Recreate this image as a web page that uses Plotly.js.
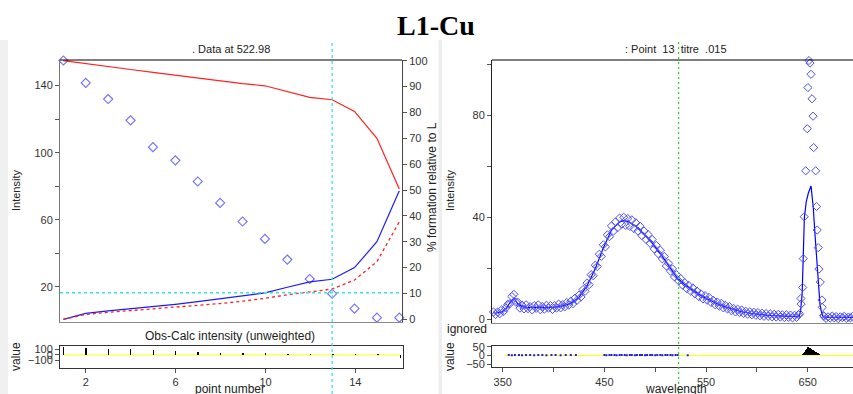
<!DOCTYPE html>
<html>
<head>
<meta charset="utf-8">
<script src="https://cdn.plot.ly/plotly-3.0.1.min.js"></script>
<style>html,body{margin:0;padding:0;background:#fff;}#chart{width:853px;height:394px;}</style>
</head>
<body>
<div id="chart"></div>
<script>
// ---------- Left panel: titration points at 522.98 nm ----------
const pointNumber = [1,2,3,4,5,6,7,8,9,10,11,12,13,14,15,16];
const obsIntensity = [155,141.6,132,119.3,103.3,95.4,82.8,70,58.9,48.5,36.2,24.6,15.8,6.9,1.5,1.5];
const pctFreeL = [100,98.8,97.7,96.6,95.5,94.4,93.3,92.2,91.1,90.3,88.0,85.8,84.9,80.4,70.0,50.4];
const pctComplex1 = [0,2.3,3.3,4.1,4.9,5.8,6.8,7.9,9.0,10.2,12.4,14.5,15.5,20.0,30.0,49.7];
const pctComplex2 = [0,1.9,2.7,3.4,4.0,4.7,5.3,6.1,7.0,8.1,9.5,10.7,11.7,15.2,22.3,37.7];
const residPoint = [150,127,110,104,91,73,55,42,36,31,24,13,9,9,9,-60];
const selectedPoint = 13;
const selectedIntensity = 16.4;

// ---------- Right panel: spectrum of point 13 ----------
const obsWl = [341,343,345,347,349,351,353,355,357,359,361,363,365,367,369,371,373,375,377,379,381,383,385,387,389,391,393,395,397,399,401,403,405,407,409,411,413,415,417,419,421,423,425,427,429,431,433,435,437,439,441,443,445,447,449,451,453,455,457,459,461,463,465,467,469,471,473,475,477,479,481,483,485,487,489,491,493,495,497,499,501,503,505,507,509,511,513,515,517,519,521,523,525,527,529,531,533,535,537,539,541,543,545,547,549,551,553,555,557,559,561,563,565,567,569,571,573,575,577,579,581,583,585,587,589,591,593,595,597,599,601,603,605,607,609,611,613,615,617,619,621,623,625,627,629,631,633,635,637,639,641,
  642.0,643.3,643.5,645.0,645.6,646.5,648.0,649.5,650.2,651.2,652.2,653.2,654.2,655.2,655.8,657.8,658.7,659.3,660.3,661.0,662.3,664.0,664.2,665.5,
  666,668,670,672,674,676,678,680,682,684,686,688,690,692,694];
const obsVal = [2.9,1.9,2.9,2.2,3.8,3.1,4.5,5.9,6.1,9.0,
  9.8,6.7,6.7,4.4,5.6,4.1,5.7,4.2,5.0,3.7,
  5.4,4.3,5.7,3.8,5.1,4.0,5.5,4.4,5.4,3.9,
  5.4,4.4,6.0,4.5,5.8,4.9,6.6,5.6,7.1,6.1,
  8.3,7.4,9.5,8.8,11.7,11.0,14.2,13.6,17.5,17.1,
  21.2,20.7,25.5,24.7,29.2,28.4,33.1,32.4,36.6,34.6,
  38.2,35.9,39.7,37.3,40.0,36.8,39.5,36.4,39.0,35.6,
  37.8,34.6,36.5,32.8,34.6,31.3,33.2,29.8,31.3,27.6,
  29.0,25.7,27.1,23.7,24.6,20.9,22.0,18.9,19.8,16.6,
  17.5,15.1,16.0,13.4,14.4,12.0,13.3,11.0,12.3,10.0,
  11.1,8.9,10.0,8.0,9.3,7.5,8.6,6.6,7.5,5.7,
  6.8,5.2,6.3,4.5,5.5,4.1,5.0,3.4,4.3,2.9,
  4.0,2.7,3.7,2.3,3.2,2.0,3.0,1.8,2.8,1.6,
  2.7,1.4,2.4,1.2,2.3,1.2,2.2,1.0,2.0,0.9,
  2.0,0.9,1.8,0.7,1.8,0.8,1.7,0.6,1.6,0.8,
  1.8,
  2.2,8.2,6.0,12.5,23.8,40.2,58.2,74.7,90.8,101.4,100.4,96,86.4,79.6,67.3,58.2,44.2,35,28.1,19.7,14.6,7.6,4.7,1.5,
  1.2,0.4,1.0,0.5,1.3,0.6,1.1,0.3,1.0,0.7,1.2,0.4,0.9,0.6,1.1];
const calcWl = [341,345,349,353,357,361,365,369,373,381,393,401,409,417,425,433,441,449,457,465,469,473,481,489,497,505,513,521,529,537,545,553,561,569,577,585,593,601,609,617,625,633,639,641.7,643,644.5,645.7,646.7,648.5,650.6,653.2,654.3,655.4,657,658.7,660.5,662,663.7,665.3,670,680,695];
const calcVal = [2.5,2.6,3.0,4.0,6.5,8.3,6.0,5.0,4.7,4.6,4.6,4.8,5.3,6.3,8.6,13.2,19.8,28.0,35.0,38.2,38.7,38.4,36.5,33.4,30.0,25.8,21.0,16.6,13.6,11.3,9.3,7.7,6.1,4.9,3.8,3.0,2.4,2.0,1.7,1.5,1.3,1.1,1.1,1.2,3.5,10,23.8,40,46,49.5,52.3,49,44,34,24,13,6,2.5,1,0.8,0.8,0.8];
const residWl = [644,645,646,647,648,649,650,651,652,653,654,655,656,657,658,659,660,661,662,663];
const residVal = [3,8,15,22,30,38,46,50,44,40,35,33,30,26,22,20,15,12,8,4];
const residDotWl = [356,359,362,366,369,373,377,381,385,389,393,398,402,407,412,417,422,450,452,455,457,460,462,465,467,470,472,475,477,480,482,485,487,490,492,495,497,500,502,505,507,510,512,515,517,520,522,532];
const residDotVal = [2,1,3,2,1,2,3,1,2,2,1,3,2,1,2,2,3,2,1,2,3,2,1,2,2,3,1,2,2,1,3,2,2,1,2,3,2,1,2,2,1,3,2,2,1,2,2,1];
const dataWavelength = 522.98;

// ---------- tick labels ----------
const leftYTicks = [20,40,60,80,100,120,140];
const leftYLabels = ['20','','60','','100','','140'];
const pctTicks = [0,10,20,30,40,50,60,70,80,90,100];
const ptTicks = [2,6,10,14];
const resLTicks = [-100,0,100];
const specYTicks = [0,20,40,60,80,100];
const specYLabels = ['0','','40','','80',''];
const wlTicks = [350,400,450,500,550,600,650];
const wlLabels = ['350','','450','','550','','650'];
const resRTicks = [-50,0,50];

const W = 853, H = 394;
const px = v => v / W;
const py = v => 1 - v / H;
const FONT = 'Liberation Sans, Arial, sans-serif';
const tickFont = {family: FONT, size: 11, color: '#333'};
const diamondColor = '#6e6eff';
const specDiamondColor = '#4c4cff';

const traces = [
  {x: pointNumber, y: pctFreeL, xaxis: 'x', yaxis: 'y2', mode: 'lines', line: {color: '#ff2020', width: 1.2}},
  {x: pointNumber, y: pctComplex1, xaxis: 'x', yaxis: 'y2', mode: 'lines', line: {color: '#1a1aff', width: 1.2}},
  {x: pointNumber, y: pctComplex2, xaxis: 'x', yaxis: 'y2', mode: 'lines', line: {color: '#ff2020', width: 1.3, dash: '3px,3px'}},
  {x: pointNumber, y: obsIntensity, xaxis: 'x', yaxis: 'y', mode: 'markers', cliponaxis: false,
   marker: {symbol: 'diamond-open', size: 7, color: diamondColor, line: {width: 1.1, color: diamondColor}}},
  {x: pointNumber, y: residPoint, xaxis: 'x2', yaxis: 'y3', type: 'bar', width: 0.06, marker: {color: '#000', line: {width: 0}}},
  {x: calcWl, y: calcVal, xaxis: 'x3', yaxis: 'y4', mode: 'lines', line: {color: '#0000ff', width: 1.2}},
  {x: obsWl, y: obsVal, xaxis: 'x3', yaxis: 'y4', mode: 'markers', cliponaxis: false,
   marker: {symbol: 'diamond-open', size: 6.3, color: specDiamondColor, line: {width: 1, color: specDiamondColor}}},
  {x: residWl, y: residVal, xaxis: 'x4', yaxis: 'y5', type: 'bar', width: 1, marker: {color: '#000', line: {width: 0}}},
  {x: residDotWl, y: residDotVal, xaxis: 'x4', yaxis: 'y5', mode: 'markers', marker: {symbol: 'square', size: 2, color: '#1a1aff'}}
];

const axBase = {showgrid: false, zeroline: false, tickfont: tickFont, ticklen: 4, tickcolor: '#555', fixedrange: true};

const layout = {
  width: W, height: H,
  margin: {l: 0, r: 0, t: 0, b: 0},
  paper_bgcolor: '#fff', plot_bgcolor: 'rgba(0,0,0,0)',
  showlegend: false, bargap: 0,
  font: {family: FONT, size: 11, color: '#333'},
  xaxis: Object.assign({}, axBase, {domain: [px(60), px(402)], anchor: 'y', range: [0.85, 16.12],
    showticklabels: false, ticks: '', showline: true, linecolor: '#8a8a8a', linewidth: 1}),
  yaxis: Object.assign({}, axBase, {domain: [py(322), py(60)], anchor: 'x', range: [-1.07, 155.3],
    tickvals: leftYTicks, ticktext: leftYLabels, ticks: 'outside', showline: true, linecolor: '#777', linewidth: 1}),
  yaxis2: Object.assign({}, axBase, {overlaying: 'y', side: 'right', anchor: 'x', range: [-1.04, 100.27],
    tickvals: pctTicks, ticks: 'outside', showline: true, linecolor: '#444', linewidth: 1}),
  xaxis2: Object.assign({}, axBase, {domain: [px(60), px(403)], anchor: 'y3', range: [0.85, 16.12],
    tickvals: ptTicks, ticks: 'outside', showline: true, mirror: true, linecolor: '#333', linewidth: 1}),
  yaxis3: Object.assign({}, axBase, {domain: [py(368), py(346)], anchor: 'x2', range: [-240, 165],
    tickvals: resLTicks, ticks: 'outside', showline: true, mirror: true, linecolor: '#333', linewidth: 1}),
  xaxis3: Object.assign({}, axBase, {domain: [px(492), 1], anchor: 'y4', range: [339.5, 694.5],
    showticklabels: false, ticks: '', showline: true, linecolor: '#8a8a8a', linewidth: 1}),
  yaxis4: Object.assign({}, axBase, {domain: [py(322.7), py(60)], anchor: 'x3', range: [-1.3, 101.6],
    tickvals: specYTicks, ticktext: specYLabels, ticks: 'outside', showline: true, linecolor: '#222', linewidth: 1}),
  xaxis4: Object.assign({}, axBase, {domain: [px(492), 1], anchor: 'y5', range: [339.5, 694.5],
    tickvals: wlTicks, ticktext: wlLabels, ticks: 'outside', showline: true, mirror: true, linecolor: '#333', linewidth: 1}),
  yaxis5: Object.assign({}, axBase, {domain: [py(367.3), py(345.7)], anchor: 'x4', range: [-68, 56],
    tickvals: resRTicks, ticks: 'outside', showline: true, mirror: true, linecolor: '#333', linewidth: 1}),
  shapes: [
    {type: 'rect', xref: 'paper', yref: 'paper', x0: 0, x1: px(8), y0: 0, y1: py(40), fillcolor: '#f0f0f0', line: {width: 0}, layer: 'below'},
    {type: 'rect', xref: 'paper', yref: 'paper', x0: px(438.5), x1: px(442), y0: 0, y1: py(40), fillcolor: '#eeeeee', line: {width: 0}, layer: 'below'},
    {type: 'line', xref: 'paper', yref: 'paper', x0: px(60), x1: px(402), y0: py(60), y1: py(60), line: {color: '#000', width: 1}},
    {type: 'line', xref: 'paper', yref: 'paper', x0: px(492), x1: 1, y0: py(60), y1: py(60), line: {color: '#000', width: 1}},
    {type: 'line', xref: 'x', yref: 'paper', x0: selectedPoint, x1: selectedPoint, y0: 0, y1: py(40), line: {color: '#2ee6e6', width: 1.2, dash: '3px,3px'}},
    {type: 'line', xref: 'x domain', yref: 'y', x0: 0, x1: 1, y0: selectedIntensity, y1: selectedIntensity, line: {color: '#2ee6e6', width: 1.5, dash: '3px,3px'}},
    {type: 'line', xref: 'x3', yref: 'paper', x0: dataWavelength, x1: dataWavelength, y0: 0, y1: py(40), line: {color: '#33cc33', width: 1.2, dash: '2px,3px'}},
    {type: 'line', xref: 'x2', yref: 'y3', x0: 1, x1: 16, y0: 0, y1: 0, line: {color: '#ffff00', width: 1}, layer: 'below'},
    {type: 'line', xref: 'x4', yref: 'y5', x0: 352, x1: 695, y0: 0, y1: 0, line: {color: '#ffff00', width: 1}, layer: 'below'}
  ],
  annotations: [
    {text: '<b>L1-Cu</b>', x: px(436), y: py(25), font: {family: 'Liberation Serif, Times New Roman, serif', size: 28, color: '#000'}},
    {text: '. Data at 522.98', x: px(230.5), y: py(49)},
    {text: ':\u00a0Point\u00a0\u00a013\u00a0\u00a0titre\u00a0\u00a0.015', x: px(676), y: py(49)},
    {text: 'Obs-Calc intensity (unweighted)', x: px(230), y: py(335.5), font: {size: 12}},
    {text: 'point number', x: px(230), y: py(388.5), font: {size: 12}},
    {text: 'wavelength', x: px(676), y: py(388.5), font: {size: 12}},
    {text: 'ignored', x: px(467), y: py(329), font: {size: 12}},
    {text: 'Intensity', x: px(16), y: py(190), textangle: -90},
    {text: '% formation relative to L', x: px(432), y: py(187), textangle: -90, font: {size: 12}},
    {text: 'Intensity', x: px(450), y: py(190), textangle: -90},
    {text: 'value', x: px(16), y: py(356), textangle: -90, font: {size: 12}},
    {text: 'value', x: px(450), y: py(356), textangle: -90, font: {size: 12}}
  ].map(a => Object.assign({xref: 'paper', yref: 'paper', showarrow: false, xanchor: 'center', yanchor: 'middle'}, a,
      {font: Object.assign({family: FONT, size: 11, color: '#222'}, a.font || {})}))
};

Plotly.newPlot('chart', traces, layout, {staticPlot: true, displayModeBar: false});
</script>
</body>
</html>
